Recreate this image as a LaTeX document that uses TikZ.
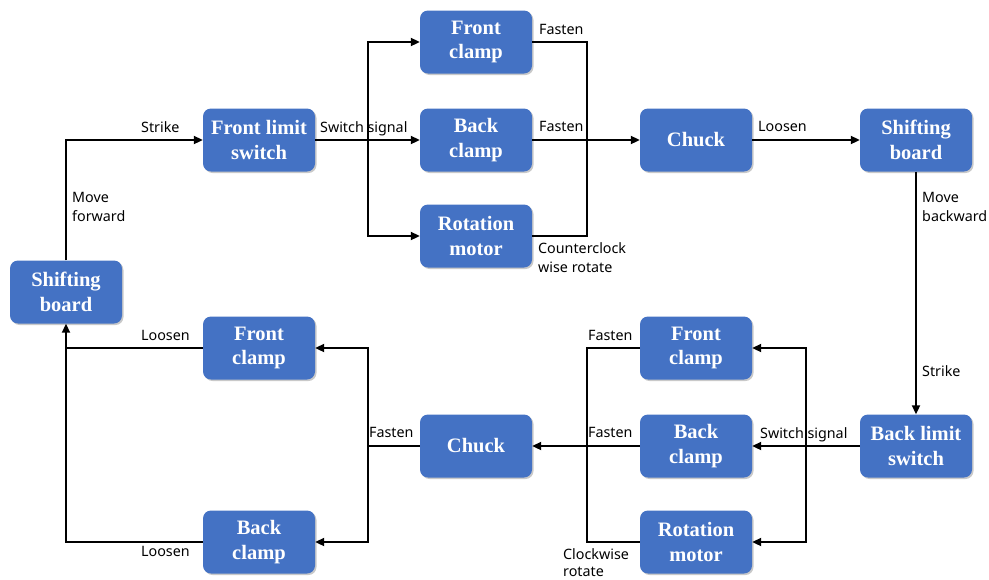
\documentclass[tikz,border=0pt]{standalone}
\usepackage{fontspec}
\setmainfont{Liberation Serif}
\newfontfamily\lblfont{Noto Sans}
\usetikzlibrary{arrows.meta,shadows}
\definecolor{boxblue}{RGB}{68,114,196}
\tikzset{
 blk/.style={draw=none, fill=boxblue, rounded corners=8pt, minimum width=112pt, minimum height=63pt,
   text=white, font=\fontsize{20.5}{24.5}\selectfont\bfseries, align=center, inner sep=0pt,
   drop shadow={shadow xshift=1.5pt,shadow yshift=-1.5pt,opacity=0.3,fill=black!70}},
 conn/.style={line width=2pt, draw=black},
 arr/.style={conn, -{Triangle[length=9pt,width=8pt]}},
 lbl/.style={font=\lblfont\fontsize{14.3}{19}\selectfont, inner sep=0pt, align=left, anchor=north west}
}
\begin{document}
\begin{tikzpicture}[x=1pt,y=-1pt]
\useasboundingbox (0,0) rectangle (989,579);
% nodes
\node[blk] (sbL) at (66,292) {Shifting\\board};
\node[blk] (fls) at (259,140) {Front limit\\switch};
\node[blk] (fc1) at (476,42) {Front\\clamp};
\node[blk] (bc1) at (476,140) {Back\\clamp};
\node[blk] (rm1) at (476,236) {Rotation\\motor};
\node[blk] (ch1) at (696,140) {Chuck};
\node[blk] (sbR) at (916,140) {Shifting\\board};
\node[blk] (bls) at (916,446) {Back limit\\switch};
\node[blk] (fc2) at (696,348) {Front\\clamp};
\node[blk] (bc2) at (696,446) {Back\\clamp};
\node[blk] (rm2) at (696,542) {Rotation\\motor};
\node[blk] (ch2) at (476,446) {Chuck};
\node[blk] (fc3) at (259,348) {Front\\clamp};
\node[blk] (bc3) at (259,542) {Back\\clamp};
% junctions
\coordinate (s1) at (368,140);
\coordinate (m1) at (587,140);
\coordinate (s2) at (806,446);
\coordinate (m2) at (587,446);
\coordinate (s3) at (368,446);
% connectors
\draw[arr] (sbL.north) |- (fls.west);
\draw[arr] (fls.east) -- (bc1.west);
\draw[arr] (s1) |- (fc1.west);
\draw[arr] (s1) |- (rm1.west);
\draw[conn] (fc1.east) -| (m1) |- (rm1.east);
\draw[arr] (bc1.east) -- (ch1.west);
\draw[arr] (ch1.east) -- (sbR.west);
\draw[arr] (sbR.south) -- (bls.north);
\draw[arr] (bls.west) -- (bc2.east);
\draw[arr] (s2) |- (fc2.east);
\draw[arr] (s2) |- (rm2.east);
\draw[conn] (fc2.west) -| (m2) |- (rm2.west);
\draw[arr] (bc2.west) -- (ch2.east);
\draw[conn] (ch2.west) -- (s3);
\draw[arr] (s3) |- (fc3.east);
\draw[arr] (s3) |- (bc3.east);
\draw[conn] (fc3.west) -- (fc3.west -| sbL.south);
\draw[arr] (bc3.west) -| (sbL.south);
% labels
\node[lbl] (t1) at (141,121) {Strike};
\node[lbl] (t2) at (72,192) {Move\\forward};
\node[lbl] (t3) at (320,121) {Switch signal};
\node[lbl] (t4) at (539,24) {Fasten};
\node[lbl] (t5) at (539,121) {Fasten};
\node[lbl] (t6) at (538,242) {Counterclock\\wise rotate};
\node[lbl] (t7) at (758,121) {Loosen};
\node[lbl] (t8) at (922,192) {Move\\backward};
\node[lbl] (t9) at (922,365) {Strike};
\node[lbl] (t10) at (760,427) {Switch signal};
\node[lbl] (t11) at (588,330) {Fasten};
\node[lbl] (t12) at (588,427) {Fasten};
\node[lbl, font=\lblfont\fontsize{14.3}{17}\selectfont] (t13) at (563,548) {Clockwise\\rotate};
\node[lbl] (t14) at (369,427) {Fasten};
\node[lbl] (t15) at (141,330) {Loosen};
\node[lbl] (t16) at (141,546) {Loosen};
\end{tikzpicture}
\end{document}
